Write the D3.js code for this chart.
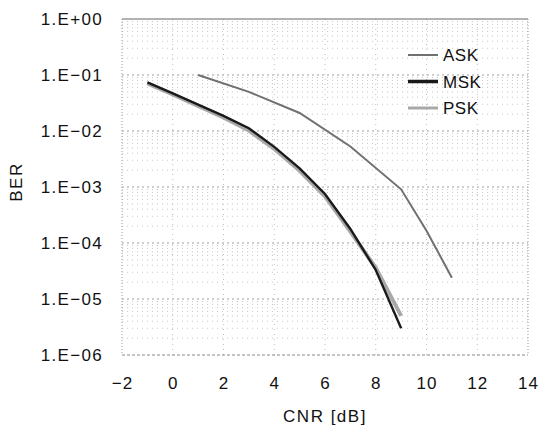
<!DOCTYPE html>
<html>
<head>
<meta charset="utf-8">
<script src="https://cdn.jsdelivr.net/npm/d3@7"></script>
<style>
  body { margin: 0; background: #fff; }
  text { font-family: "Liberation Sans", Arial, sans-serif; fill: #111; }
</style>
</head>
<body>
<div id="chart"></div>
<script>
const cnr = [-1, 0, 1, 2, 3, 4, 5, 6, 7, 8, 9];
const cnrAsk = [1, 3, 5, 7, 9, 10, 11];
// BER values
const askBer = [1.0e-1, 5.0e-2, 2.1e-2, 5.3e-3, 9.1e-4, 1.66e-4, 2.4e-5];
const mskBer = [7.4e-2, 4.7e-2, 2.95e-2, 1.86e-2, 1.12e-2, 5.2e-3, 2.15e-3, 7.5e-4, 1.78e-4, 3.3e-5, 3.0e-6];
const pskBer = [7.1e-2, 4.5e-2, 2.8e-2, 1.75e-2, 1.02e-2, 4.8e-3, 1.95e-3, 6.8e-4, 1.6e-4, 3.6e-5, 5.0e-6];
const xTicks = [-2, 0, 2, 4, 6, 8, 10, 12, 14];
const yTicks = [1, 1e-1, 1e-2, 1e-3, 1e-4, 1e-5, 1e-6];
const yTickLabels = ['1.E+00', '1.E-01', '1.E-02', '1.E-03', '1.E-04', '1.E-05', '1.E-06'];
const seriesNames = ['ASK', 'MSK', 'PSK'];

const margin = { top: 19, right: 11, bottom: 71, left: 122 };
const containerWidth = 539;
const containerHeight = 426;
const width = containerWidth - margin.left - margin.right;
const height = containerHeight - margin.top - margin.bottom;

const svg = d3.select('#chart')
  .append('svg')
  .attr('width', containerWidth)
  .attr('height', containerHeight)
  .append('g')
  .attr('transform', `translate(${margin.left}, ${margin.top})`);

const x = d3.scaleLinear().domain([-2, 14]).range([0, width]);
const y = d3.scaleLog().domain([1e-6, 1]).range([height, 0]);

// minor grid (2..9 within each decade)
const minor = [];
for (let e = -6; e < 0; e++) {
  for (let m = 2; m <= 9; m++) minor.push(m * Math.pow(10, e));
}
svg.append('g')
  .selectAll('line')
  .data(minor)
  .enter().append('line')
  .attr('x1', 0).attr('x2', width)
  .attr('y1', d => y(d)).attr('y2', d => y(d))
  .attr('stroke', '#c8c8c8')
  .attr('stroke-dasharray', '1,4');

// major horizontal grid
svg.append('g')
  .selectAll('line')
  .data(yTicks.slice(1, -1))
  .enter().append('line')
  .attr('x1', 0).attr('x2', width)
  .attr('y1', d => y(d)).attr('y2', d => y(d))
  .attr('stroke', '#a0a0a0')
  .attr('stroke-dasharray', '2,3');

// vertical grid
svg.append('g')
  .selectAll('line')
  .data(xTicks.slice(1, -1))
  .enter().append('line')
  .attr('x1', d => x(d)).attr('x2', d => x(d))
  .attr('y1', 0).attr('y2', height)
  .attr('stroke', '#c0c0c0')
  .attr('stroke-dasharray', '1,4');

// frame
svg.append('line').attr('x1', 0).attr('x2', width).attr('y1', 0).attr('y2', 0)
  .attr('stroke', '#666').attr('stroke-width', 1.2);
svg.append('line').attr('x1', 0).attr('x2', width).attr('y1', height).attr('y2', height)
  .attr('stroke', '#888').attr('stroke-dasharray', '3,2');
svg.append('line').attr('x1', 0).attr('x2', 0).attr('y1', 0).attr('y2', height)
  .attr('stroke', '#999').attr('stroke-dasharray', '1,2');
svg.append('line').attr('x1', width).attr('x2', width).attr('y1', 0).attr('y2', height)
  .attr('stroke', '#999').attr('stroke-dasharray', '1,2');

// axes (labels only)
const xAxis = svg.append('g')
  .attr('transform', `translate(0, ${height})`)
  .call(d3.axisBottom(x).tickValues(xTicks).tickSize(0).tickPadding(22).tickFormat(d => d < 0 ? '\u2212' + Math.abs(d) : d));
xAxis.select('.domain').remove();
xAxis.selectAll('text').style('font-size', '17px').style('letter-spacing', '1px');

const yAxis = svg.append('g')
  .call(d3.axisLeft(y).tickValues(yTicks).tickSize(0).tickPadding(19)
    .tickFormat((d, i) => yTickLabels[i].replace('-', '\u2212')));
yAxis.select('.domain').remove();
yAxis.selectAll('text').style('font-size', '17px').style('letter-spacing', '1.3px');

svg.append('text')
  .attr('x', x(6)).attr('y', height + 67)
  .attr('text-anchor', 'middle')
  .style('font-size', '17px').style('letter-spacing', '1.5px')
  .text('CNR [dB]');

svg.append('text')
  .attr('transform', `translate(${-100}, ${y(1e-3) - 5}) rotate(-90)`)
  .attr('text-anchor', 'middle')
  .style('font-size', '17px').style('letter-spacing', '1.5px')
  .text('BER');

// curves
const line = d3.line().x(d => x(d[0])).y(d => y(d[1]));

svg.append('path')
  .datum(d3.zip(cnr, pskBer))
  .attr('d', line)
  .attr('fill', 'none')
  .attr('stroke', '#a8a8a8')
  .attr('stroke-width', 4);

svg.append('path')
  .datum(d3.zip(cnr, mskBer))
  .attr('d', line)
  .attr('fill', 'none')
  .attr('stroke', '#1a1a1a')
  .attr('stroke-width', 2.4);

svg.append('path')
  .datum(d3.zip(cnrAsk, askBer))
  .attr('d', line)
  .attr('fill', 'none')
  .attr('stroke', '#707070')
  .attr('stroke-width', 2);

// legend
const legendStyles = [
  { color: '#707070', w: 2 },
  { color: '#1a1a1a', w: 3.5 },
  { color: '#a8a8a8', w: 3 }
];
const legend = svg.append('g').attr('transform', `translate(${408 - margin.left}, ${55 - margin.top})`);
seriesNames.forEach((name, i) => {
  const g = legend.append('g').attr('transform', `translate(0, ${i * 26.5})`);
  g.append('line').attr('x1', 0).attr('x2', 30).attr('y1', 0).attr('y2', 0)
    .attr('stroke', legendStyles[i].color).attr('stroke-width', legendStyles[i].w);
  g.append('text').attr('x', 35).attr('y', 6)
    .style('font-size', '17px').style('letter-spacing', '0.5px')
    .text(name);
});
</script>
</body>
</html>
